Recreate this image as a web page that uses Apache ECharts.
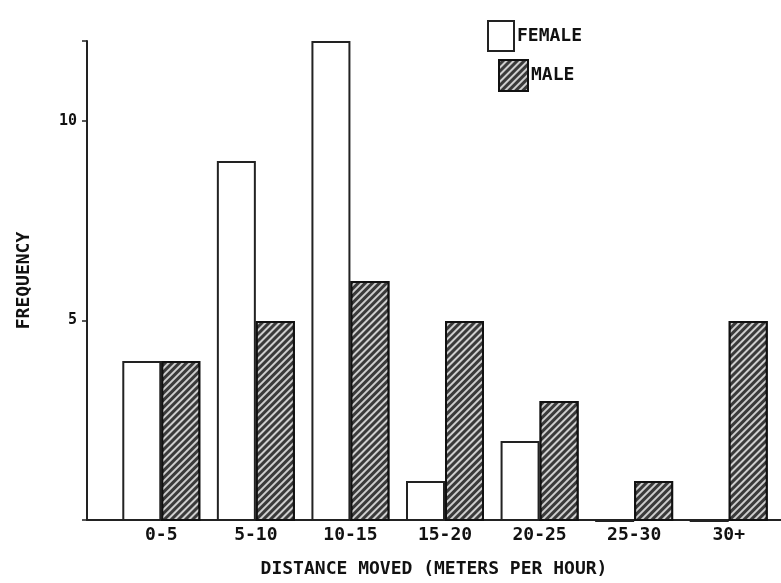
<!DOCTYPE html>
<html>
<head>
<meta charset="utf-8">
<script src="https://cdn.jsdelivr.net/npm/echarts@6/dist/echarts.min.js"></script>
<style>html,body{margin:0;padding:0;background:#fff}#c{width:781px;height:583px}</style>
</head>
<body>
<div id="c"></div>
<script>
var categories = ['0-5', '5-10', '10-15', '15-20', '20-25', '25-30', '30+'];
var female = [4, 9, 12, 1, 2, 0, 0];
var male = [4, 5, 6, 5, 3, 1, 5];
var yTicks = [5, 10];

var FONT = '"DejaVu Sans Mono", monospace';
var chart = echarts.init(document.getElementById('c'), null, {renderer: 'canvas'});
var option = {
  backgroundColor: '#fff',
  animation: false,
  legend: [
    {data: [{name: 'FEMALE', icon: 'rect'}], left: 487, top: 20, padding: 0, itemWidth: 26, itemHeight: 30, itemGap: 4,
     textStyle: {fontFamily: FONT, fontSize: 18, fontWeight: 'bold', color: '#111', padding: [0, 0, 0, -2]}},
    {data: [{name: 'MALE', icon: 'rect'}], left: 498, top: 59, padding: 0, itemWidth: 29, itemHeight: 31, itemGap: 4,
     textStyle: {fontFamily: FONT, fontSize: 18, fontWeight: 'bold', color: '#111', padding: [0, 0, 0, -2]}}
  ],
  grid: [
    {left: 87, right: 0, top: 41, bottom: 62},
    {left: 114, width: 662, top: 41, bottom: 62}
  ],
  xAxis: [
    {type: 'value', gridIndex: 0, min: 0, max: 1, splitLine: {show: false},
     axisLabel: {show: false}, axisTick: {show: false},
     axisLine: {show: true, lineStyle: {color: '#222', width: 2}},
     name: 'DISTANCE MOVED (METERS PER HOUR)', nameLocation: 'middle', nameGap: 40,
     nameTextStyle: {fontFamily: FONT, fontSize: 18, fontWeight: 'bold', color: '#111'}},
    {type: 'category', gridIndex: 1, data: categories,
     axisLine: {show: false}, axisTick: {show: false},
     axisLabel: {margin: 5, fontFamily: FONT, fontSize: 18, fontWeight: 'bold', color: '#111'}}
  ],
  yAxis: [
    {type: 'value', gridIndex: 0, min: 0, max: 12, interval: 5, splitLine: {show: false},
     axisLine: {show: true, lineStyle: {color: '#222', width: 2}},
     axisTick: {show: true, inside: false, length: 5, lineStyle: {color: '#222', width: 1.5}},
     axisLabel: {margin: 10, fontFamily: FONT, fontSize: 15, fontWeight: 'bold', color: '#111',
       formatter: function (v) { return yTicks.indexOf(v) >= 0 ? String(v) : ''; }},
     name: 'FREQUENCY', nameLocation: 'middle', nameGap: 54, nameRotate: 90,
     nameTextStyle: {fontFamily: FONT, fontSize: 18, fontWeight: 'bold', color: '#111'}},
    {type: 'value', gridIndex: 1, min: 0, max: 12, show: false}
  ],
  series: [
    {name: 'FEMALE', type: 'bar', xAxisIndex: 1, yAxisIndex: 1, data: female,
     barWidth: 39, barGap: '0%',
     itemStyle: {color: '#fff', borderColor: '#222', borderWidth: 2}},
    {name: 'MALE', type: 'bar', xAxisIndex: 1, yAxisIndex: 1, data: male,
     barWidth: 39, barGap: '0%',
     itemStyle: {color: '#3a3a3a', borderColor: '#111', borderWidth: 2,
       decal: {symbol: 'rect', symbolSize: 1, color: 'rgba(255,255,255,0.75)',
               dashArrayX: [[1, 0]], dashArrayY: [1.5, 2.5], rotation: -Math.PI / 4}}}
  ]
};
chart.setOption(option);
</script>
</body>
</html>
